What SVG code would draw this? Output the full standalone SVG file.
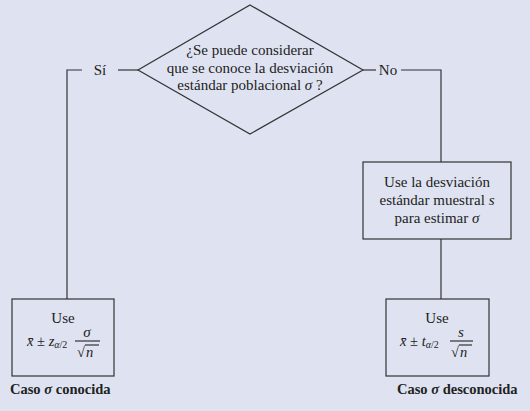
<svg xmlns="http://www.w3.org/2000/svg" width="530" height="411" viewBox="0 0 530 411">
<style>
.ln{stroke:#333;stroke-width:1.2;fill:none}
.bx{stroke:#333;stroke-width:1.2;fill:none}
.lbl{font-size:15px;text-anchor:middle;fill:#222}
.it{font-style:italic}
.capt{font-size:14.5px;font-weight:bold;fill:#222}
.frm{font-size:14.5px;fill:#222}
</style>
<rect width="530" height="411" fill="#dfe3f1"/>
<g id="connectors">
<polyline class="ln" points="138,70 118,70"/>
<polyline class="ln" points="82,70 67,70 67,299"/>
<polyline class="ln" points="363,70 376,70"/>
<polyline class="ln" points="401,70 441,70 441,162"/>
<polyline class="ln" points="441,239 441,299"/>
<text class="lbl" style="font-family:'Liberation Serif',serif" x="100" y="75">Sí</text>
<text class="lbl" style="font-family:'Liberation Serif',serif" x="388" y="75">No</text>
</g>
<g id="decision">
<polygon class="bx" points="250,5 363,70 250,134 138,70"/>
<text class="lbl" style="font-family:'Liberation Serif',serif" x="250" y="55">¿Se puede considerar</text>
<text class="lbl" style="font-family:'Liberation Serif',serif" x="250" y="73">que se conoce la desviación</text>
<text class="lbl" style="font-family:'Liberation Serif',serif" x="250" y="90">estándar poblacional <tspan class="it">σ</tspan> ?</text>
</g>
<g id="estimate">
<rect class="bx" x="363" y="162" width="148" height="77"/>
<text class="lbl" style="font-family:'Liberation Serif',serif" x="437" y="187">Use la desviación</text>
<text class="lbl" style="font-family:'Liberation Serif',serif" x="437" y="205">estándar muestral <tspan class="it">s</tspan></text>
<text class="lbl" style="font-family:'Liberation Serif',serif" x="437" y="223">para estimar <tspan class="it">σ</tspan></text>
</g>
<g id="known">
<rect class="bx" x="12" y="299" width="102" height="77"/>
<text class="lbl" style="font-family:'Liberation Serif',serif" x="63" y="323">Use</text>
<text class="frm" style="font-family:'Liberation Serif',serif" x="27" y="346"><tspan class="it">x̄</tspan> ± <tspan class="it">z</tspan><tspan class="it" font-size="10" dy="2">α</tspan><tspan font-size="10">/2</tspan></text>
<text class="lbl it" style="font-family:'Liberation Serif',serif" x="87" y="337">σ</text>
<line class="ln" x1="75" y1="341" x2="100" y2="341" stroke-width="0.9"/>
<text class="frm" style="font-family:'Liberation Serif',serif" x="77" y="357">√</text>
<line class="ln" x1="85" y1="345" x2="99" y2="345" stroke-width="0.9"/>
<text class="frm it" style="font-family:'Liberation Serif',serif" x="86" y="357">n</text>
<text class="capt" style="font-family:'Liberation Serif',serif" x="10" y="394">Caso <tspan class="it">σ</tspan>  conocida</text>
</g>
<g id="unknown">
<rect class="bx" x="386" y="299" width="103" height="77"/>
<text class="lbl" style="font-family:'Liberation Serif',serif" x="437" y="323">Use</text>
<text class="frm" style="font-family:'Liberation Serif',serif" x="400" y="346"><tspan class="it">x̄</tspan> ± <tspan class="it">t</tspan><tspan class="it" font-size="10" dy="2">α</tspan><tspan font-size="10">/2</tspan></text>
<text class="lbl it" style="font-family:'Liberation Serif',serif" x="461" y="337">s</text>
<line class="ln" x1="450" y1="341" x2="473" y2="341" stroke-width="0.9"/>
<text class="frm" style="font-family:'Liberation Serif',serif" x="451" y="357">√</text>
<line class="ln" x1="459" y1="345" x2="472" y2="345" stroke-width="0.9"/>
<text class="frm it" style="font-family:'Liberation Serif',serif" x="460" y="357">n</text>
<text class="capt" style="font-family:'Liberation Serif',serif" x="397" y="394">Caso <tspan class="it">σ</tspan> desconocida</text>
</g>
</svg>
